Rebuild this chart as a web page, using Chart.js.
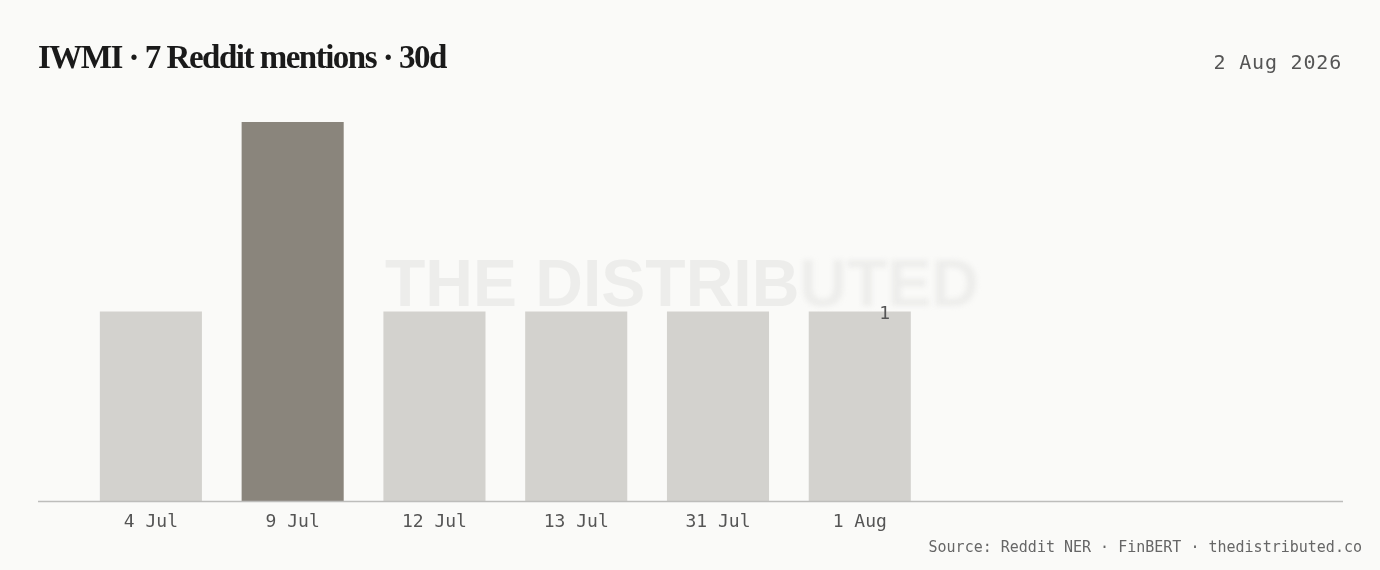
<!DOCTYPE html>
<html>
<head>
<meta charset="utf-8">
<script src="https://cdn.jsdelivr.net/npm/chart.js@4.4.0/dist/chart.umd.min.js"></script>
<style>
  html, body { margin: 0; padding: 0; background: #fafaf8; }
  #wrap { position: relative; width: 1380px; height: 570px; overflow: hidden; }
  #title { position: absolute; left: 38px; top: 39px; font-family: "Liberation Serif", serif; font-weight: bold; font-size: 33px; letter-spacing: -1.5px; color: #1a1a1a; white-space: nowrap; }
  #date { position: absolute; right: 38px; top: 50px; font-family: "DejaVu Sans Mono", monospace; font-size: 20px; letter-spacing: 0.8px; color: #555; }
  #source { position: absolute; right: 18px; top: 538px; font-family: "DejaVu Sans Mono", monospace; font-size: 15px; color: #666; white-space: nowrap; }
  canvas { position: absolute; left: 0; top: 0; }
</style>
</head>
<body>
<div id="wrap">
  <canvas id="c" width="1380" height="570"></canvas>
  <div id="title">IWMI · 7 Reddit mentions · 30d</div>
  <div id="date">2 Aug 2026</div>
  <div id="source">Source: Reddit NER · FinBERT · thedistributed.co</div>
</div>
<script>
// datos del grafico
const dias = ['4 Jul', '9 Jul', '12 Jul', '13 Jul', '31 Jul', '1 Aug'];
const menciones = [1, 2, 1, 1, 1, 1];
const huecos = ['', '', '']; // categorias vacias a la derecha
const picoIdx = 1;

const etiquetas = dias.concat(huecos);
const colores = menciones.map((v, i) => i === picoIdx ? '#8a857c' : '#d3d2ce');

// marca de agua detras de las barras
const marcaAgua = {
    id: 'marcaAgua',
    beforeDatasetsDraw(chart) {
        const ctx = chart.ctx;
        ctx.save();
        ctx.font = 'bold 66px "Liberation Sans", Arial, sans-serif';
        ctx.textBaseline = 'middle';
        ctx.fillStyle = '#ededeb';
        const a = 'THE DISTRIB', b = 'UTED';
        const wa = ctx.measureText(a).width, wb = ctx.measureText(b).width;
        const x0 = chart.width / 2 - 8 - (wa + wb) / 2;
        const y = 288;
        ctx.fillText(a, x0, y);
        ctx.filter = 'blur(2.5px)';
        ctx.fillText(b, x0 + wa, y);
        ctx.restore();
    }
};

// linea base y etiqueta del ultimo valor
const extras = {
    id: 'extras',
    afterDatasetsDraw(chart) {
        const ctx = chart.ctx;
        const area = chart.chartArea;
        ctx.save();
        ctx.strokeStyle = '#bdbdbb';
        ctx.lineWidth = 1.5;
        ctx.beginPath();
        ctx.moveTo(38, area.bottom + 0.5);
        ctx.lineTo(chart.width - 37, area.bottom + 0.5);
        ctx.stroke();

        const meta = chart.getDatasetMeta(0);
        const ult = meta.data[menciones.length - 1];
        ctx.font = '18px "DejaVu Sans Mono", monospace';
        ctx.fillStyle = '#555';
        ctx.textAlign = 'center';
        ctx.textBaseline = 'middle';
        ctx.fillText(String(menciones[menciones.length - 1]), ult.x + 25, ult.y + 3);
        ctx.restore();
    }
};

new Chart(document.getElementById('c'), {
    type: 'bar',
    data: {
        labels: etiquetas,
        datasets: [{
            data: menciones,
            backgroundColor: colores,
            borderWidth: 0,
            categoryPercentage: 1,
            barPercentage: 0.72
        }]
    },
    options: {
        responsive: false,
        animation: false,
        events: [],
        layout: { padding: { top: 122, left: 80, right: 24, bottom: 29 } },
        plugins: { legend: { display: false }, tooltip: { enabled: false } },
        scales: {
            y: { display: false, min: 0, max: 2 },
            x: {
                grid: { display: false, drawTicks: false },
                border: { display: false },
                ticks: {
                    color: '#555',
                    padding: 11,
                    maxRotation: 0,
                    autoSkip: false,
                    font: { family: '"DejaVu Sans Mono", monospace', size: 18 }
                },
                afterFit(s) { s.height = 40; }
            }
        }
    },
    plugins: [marcaAgua, extras]
});
</script>
</body>
</html>
